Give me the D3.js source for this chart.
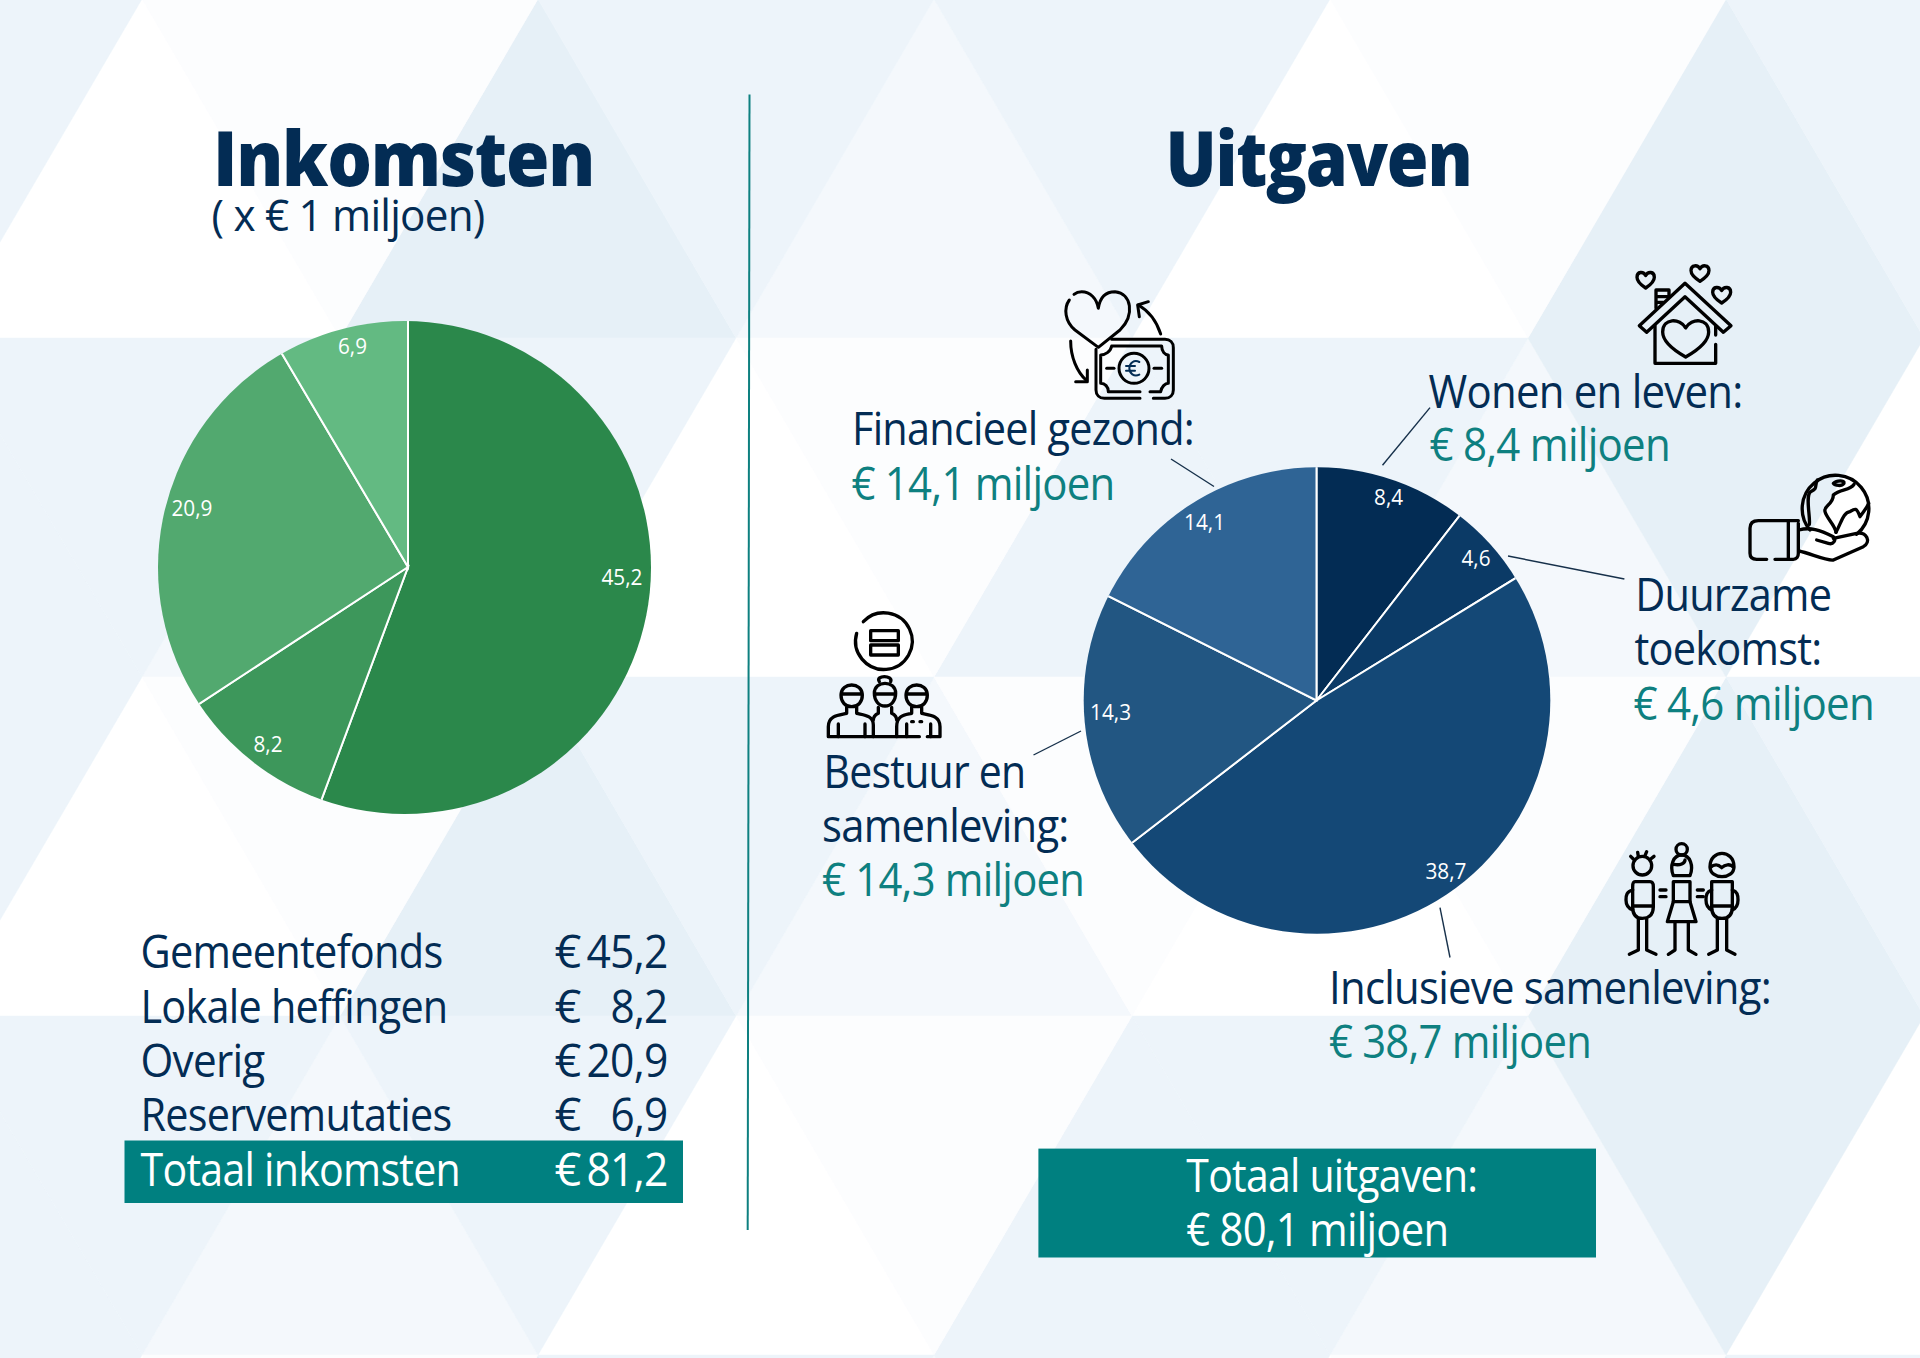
<!DOCTYPE html>
<html lang="nl">
<head>
<meta charset="utf-8">
<title>Inkomsten en Uitgaven</title>
<script src="https://cdn.jsdelivr.net/npm/d3@7"></script>
<style>
html,body{margin:0;padding:0;background:#fff;}
svg{display:block;}
text{font-family:"Open Sans",sans-serif;}
</style>
</head>
<body>
<svg id="chart" width="1920" height="1358" viewBox="0 0 1920 1358"></svg>
<script>
// ---- data ----
const incomeCategories = ["Gemeentefonds", "Lokale heffingen", "Overig", "Reservemutaties"];
const incomeValues = [45.2, 8.2, 20.9, 6.9];
const expenseCategories = ["Wonen en leven", "Duurzame toekomst", "Inclusieve samenleving", "Bestuur en samenleving", "Financieel gezond"];
const expenseValues = [8.4, 4.6, 38.7, 14.3, 14.1];

// ---- palette ----
const incomeColors = ["#2B884B", "#3D975B", "#52A96F", "#63BA82"];
const expenseColors = ["#032C54", "#0B3A66", "#144876", "#225682", "#2F6495"];
const NAVY = "#032C54", TEAL = "#008080", TEAL_TEXT = "#0E8080";
const W = "#FFFFFF", N = "#FCFDFE", V = "#F4F8FC", T = "#EDF4FA", S = "#E6F0F7";

const svg = d3.select("#chart");
const fmt = v => v.toFixed(1).replace(".", ",");

// ---- background triangle lattice ----
const triW = 396, triH = 339, triX0 = 142, triY0 = -1;
const evenUp = [W, S, V, W, S], evenDown = [T, N, T, T, N, T], evenDown2 = [T, N, T, N, N, T];
const oddUp = [T, V, W, T, V, W], oddDown = [T, T, N, T, S];
const bg = svg.append("g");
bg.append("rect").attr("width", 1920).attr("height", 1358).attr("fill", W);
function tri(x1, x2, yBase, xApex, yApex, fill) {
  const p = d3.path();
  p.moveTo(x1, yBase); p.lineTo(x2, yBase); p.lineTo(xApex, yApex); p.closePath();
  bg.append("path").attr("d", p.toString()).attr("fill", fill).attr("stroke", fill).attr("stroke-width", 0.5);
}
for (let r = 0; r < 5; r++) {
  const top = triY0 + r * triH, bot = top + triH;
  if (r % 2 === 0) {
    const downs = r === 2 ? evenDown2 : evenDown;
    evenUp.forEach((f, k) => { const a = triX0 + k * triW; tri(a - triW / 2, a + triW / 2, bot, a, top, f); });
    downs.forEach((f, k) => { const a = triX0 + (k - 1) * triW; tri(a, a + triW, top, a + triW / 2, bot, f); });
  } else {
    const x0 = triX0 - triW / 2;
    oddUp.forEach((f, k) => { const a = x0 + k * triW; tri(a - triW / 2, a + triW / 2, bot, a, top, f); });
    oddDown.forEach((f, k) => { const a = x0 + k * triW; tri(a, a + triW, top, a + triW / 2, bot, f); });
  }
}

// ---- text helper: baseline-left text fitted to the measured ink width ----
function txt(s, x, y, size, width, fill, weight) {
  const t = svg.append("text").attr("x", x - 1.5).attr("y", y).attr("font-size", size)
    .attr("fill", fill || NAVY).attr("font-weight", weight || 400)
    .attr("letter-spacing", -size * 0.018).text(s);
  if (width) t.attr("textLength", width + 3).attr("lengthAdjust", "spacingAndGlyphs");
  return t;
}

// ---- pies: wedges meet at the vertex, the rim is a circle that may sit slightly off it ----
let clipId = 0;
function drawPie(values, colors, vx, vy, cx, cy, radius) {
  const pie = d3.pie().sort(null).value(d => d)(values);
  const arc = d3.arc().innerRadius(0).outerRadius(radius + 20);
  const id = "rim" + (clipId++);
  svg.append("clipPath").attr("id", id).append("circle").attr("cx", cx).attr("cy", cy).attr("r", radius);
  svg.append("g").attr("clip-path", `url(#${id})`)
    .append("g").attr("transform", `translate(${vx},${vy})`)
    .selectAll("path").data(pie).join("path")
    .attr("d", arc).attr("fill", (d, i) => colors[i])
    .attr("stroke", "#fff").attr("stroke-width", 2);
}
drawPie(incomeValues, incomeColors, 408, 567, 404.5, 567.5, 246.5);
drawPie(expenseValues, expenseColors, 1316.5, 700.5, 1317, 700.5, 233.3);

// slice value labels
const incomeLabelPos = [[622, 585], [268, 751.5], [192, 516], [352.5, 354]];
const expenseLabelPos = [[1388.6, 505], [1476, 566], [1446, 878.6], [1110.6, 720], [1204.6, 530]];
function sliceLabels(values, pos) {
  values.forEach((v, i) => {
    const s = fmt(v), w = s.length === 3 ? 29 : 41;
    svg.append("text").attr("x", pos[i][0] - w / 2).attr("y", pos[i][1])
      .attr("font-size", 22).attr("fill", "#fff")
      .attr("textLength", w).attr("lengthAdjust", "spacingAndGlyphs").text(s);
  });
}
sliceLabels(incomeValues, incomeLabelPos);
sliceLabels(expenseValues, expenseLabelPos);

// ---- titles ----
txt("Inkomsten", 214.5, 185.5, 77, 378, NAVY, 800);
txt("( x € 1 miljoen)", 213, 231, 43, 270);
txt("Uitgaven", 1167, 185.5, 77, 303, NAVY, 800);

// divider
svg.append("line").attr("x1", 749.5).attr("y1", 94.5).attr("x2", 747.7).attr("y2", 1230)
  .attr("stroke", TEAL_TEXT).attr("stroke-width", 2);

// ---- income table ----
const tableY = [968, 1022.5, 1077, 1131];
const tableW = [299, 304, 121, 308];
const numW = [78, 54, 78, 54];
const FS = 46;
svg.append("rect").attr("x", 124.5).attr("y", 1140.5).attr("width", 558.5).attr("height", 62.5).attr("fill", TEAL);
function row(name, val, y, w, nw, fill) {
  txt(name, 142, y, FS, w, fill);
  txt("€", 556, y, FS, 23, fill);
  txt(val, 666 - nw, y, FS, nw, fill);
}
incomeCategories.forEach((c, i) => row(c, fmt(incomeValues[i]), tableY[i], tableW[i], numW[i], NAVY));
row("Totaal inkomsten", fmt(d3.sum(incomeValues)), 1185.5, 316.5, 78, "#fff");

// ---- expense callouts ----
const leaders = [
  [1430, 407.6, 1382.5, 465.3],
  [1508, 556, 1624.4, 579],
  [1440, 907.7, 1450, 957.5],
  [1081, 731, 1033.5, 755],
  [1171, 459, 1214, 486.5]
];
svg.append("g").selectAll("line").data(leaders).join("line")
  .attr("x1", d => d[0]).attr("y1", d => d[1]).attr("x2", d => d[2]).attr("y2", d => d[3])
  .attr("stroke", "#16304a").attr("stroke-width", 1.4);

const money = i => "€ " + fmt(expenseValues[i]) + " miljoen";
txt("Wonen en leven:", 1430, 407.5, FS, 311);
txt(money(0), 1431, 461, FS, 237.5, TEAL_TEXT);
txt("Duurzame", 1636.7, 611, FS, 193);
txt("toekomst:", 1636, 665.3, FS, 184);
txt(money(1), 1635, 719.5, FS, 237.5, TEAL_TEXT);
txt("Inclusieve samenleving:", 1330.5, 1003.5, FS, 439);
txt(money(2), 1330.5, 1057.5, FS, 259, TEAL_TEXT);
txt("Bestuur en", 825, 787.5, FS, 199);
txt("samenleving:", 823.6, 841.5, FS, 243.5);
txt(money(3), 823.6, 896, FS, 259, TEAL_TEXT);
txt("Financieel gezond:", 853.5, 445, FS, 339);
txt(money(4), 853, 500, FS, 260, TEAL_TEXT);

// total box
svg.append("rect").attr("x", 1038.4).attr("y", 1148.6).attr("width", 557.6).attr("height", 108.9).attr("fill", TEAL);
txt("Totaal uitgaven:", 1187.8, 1191.5, FS, 288, "#fff");
txt("€ " + fmt(d3.sum(expenseValues)) + " miljoen", 1187.8, 1245.8, FS, 259, "#fff");

// ---- line icons ----
function heart(cx, cy, w, h) {
  const a = w / 2, t = cy - h / 2, b = cy + h / 2, d = t + h * 0.22;
  return `M${cx},${d} C${cx - a * 0.25},${t - h * 0.05} ${cx - a},${t - h * 0.05} ${cx - a},${t + h * 0.33}` +
    ` C${cx - a},${t + h * 0.62} ${cx - a * 0.4},${b - h * 0.14} ${cx},${b}` +
    ` C${cx + a * 0.4},${b - h * 0.14} ${cx + a},${t + h * 0.62} ${cx + a},${t + h * 0.33}` +
    ` C${cx + a},${t - h * 0.05} ${cx + a * 0.25},${t - h * 0.05} ${cx},${d}Z`;
}
function icon(x, y, paths, sw) {
  const g = svg.append("g").attr("transform", `translate(${x},${y}) scale(${1 / 3})`)
    .attr("fill", "none").attr("stroke", "#000").attr("stroke-width", sw || 10)
    .attr("stroke-linecap", "round").attr("stroke-linejoin", "round");
  paths.forEach(d => g.append("path").attr("d", d));
  return g;
}
// heart and banknote
const finIcon = icon(1040, 260, [
  "M88,120 C70,145 75,185 105,210 L175,262 L240,210 C285,165 275,100 225,95 C200,95 180,110 175,145 C170,115 150,95 125,95 C115,95 108,98 102,103",
  "M362,222 C350,185 330,155 295,135", "M325,125 L293,135 L298,170",
  "M92,243 C92,290 110,335 140,362", "M142,330 L142,365 L107,365",
  "M300,415 H193 C178,415 168,405 168,390 V268 M215,238 H375 C390,238 400,248 400,263 V390 C400,405 390,415 375,415 H340",
  "M215,258 H365 C365,275 375,285 385,285 V370 C375,370 365,380 362,395 H330 M300,395 H205 C205,380 195,370 182,370 V285 C195,285 212,275 215,258",
  "M237,325 a45,45 0 1,0 90,0 a45,45 0 1,0 -90,0",
  "M200,325 H222", "M342,325 H365"
], 9);
finIcon.append("path").attr("d", "M298,306 C282,298 268,310 268,325 C268,340 282,352 298,344 M258,318 H285 M258,332 H285")
  .attr("stroke", NAVY).attr("stroke-width", 6);
// house with hearts
icon(1620, 255, [
  heart(77, 75, 52, 48), heart(240, 55, 54, 48), heart(305, 120, 54, 48),
  "M58,212 L195,85 L333,212 L310,232 L195,125 L80,232 Z",
  "M108,160 V105 H147 V125 M108,125 H145 M108,142 H130",
  "M105,212 V325 H287 V268 M287,240 V212",
  heart(197, 250, 138, 112)
]);
// globe on a hand
icon(1620, 255, [
  "M570,825 A100,100 0 1,1 710,838",
  "M592,675 C582,695 595,700 572,710 C555,722 572,790 568,808",
  "M648,832 C645,810 620,790 615,770 C610,750 640,750 640,720 C660,700 690,708 702,688",
  "M648,832 C665,800 670,772 690,770 C705,760 710,757 720,785 C730,770 740,760 746,745",
  "M640,685 C650,675 675,675 672,685 C665,695 645,692 640,685Z",
  "M535,797 H415 C398,797 390,805 390,820 V895 C390,908 398,913 410,913 H440 M465,913 H520 C530,913 535,905 535,895 V805",
  "M505,800 V910",
  "M537,825 C570,815 600,825 640,845 C650,855 640,870 625,865 L590,855",
  "M640,850 L710,835 C740,830 755,860 730,875 L640,915 C620,918 570,895 537,888"
]);
// three people and a ballot
icon(810, 600, [
  "M160,65 A85,85 0 1,1 140,100",
  "M182,92 H265 V122 H182Z", "M182,135 H265 V165 H182Z",
  "M93,285 C93,245 157,245 157,285 C157,305 145,320 125,320 C105,320 93,305 93,285Z M93,282 H157",
  "M193,280 C193,240 257,240 257,280 C257,300 245,318 225,318 C205,318 193,300 193,280Z M193,282 H257",
  "M208,245 C195,225 250,225 242,245",
  "M288,285 C288,245 352,245 352,285 C352,305 340,320 320,320 C300,320 288,305 288,285Z M288,282 H352",
  "M110,322 V340 C90,345 55,345 55,380 V410 H190 V375 C190,345 160,345 140,340 V322",
  "M205,322 V340 C195,345 190,350 190,360 M245,322 V340 C255,345 260,350 260,360 M190,410 H260",
  "M305,322 V340 C285,345 260,345 260,380 V410 H328 M352,410 H390 V380 C390,345 355,345 335,340 V322",
  "M85,410 V372 M165,410 V372 M290,410 V372 M362,410 V372",
  "M305,365 H310 M330,365 H335"
]);
// three figures
icon(1610, 835, [
  "M69,92 A28,28 0 1,0 125,92 A28,28 0 1,0 69,92Z",
  "M70,72 L62,64 M85,64 L83,52 M105,62 L110,50 M122,72 L132,64",
  "M75,140 H120 C128,140 130,148 130,155 V215 C130,245 110,250 97,250 C85,250 68,245 68,215 V155 C68,148 70,140 75,140Z",
  "M68,165 C50,170 48,180 48,195 C48,210 55,220 68,225 M68,213 H130",
  "M85,250 V345 L58,358 M110,250 V345 L138,358",
  "M150,165 H168 M150,185 H168",
  "M215,43 m-17,0 a17,17 0 1,0 34,0 a17,17 0 1,0 -34,0",
  "M190,122 C178,92 190,60 215,60 C240,60 252,92 240,122 H190Z M192,88 C210,92 225,85 225,75",
  "M190,140 H240 V200 H190Z",
  "M190,200 L172,260 H258 L240,200",
  "M195,260 V345 L175,358 M235,260 V345 L258,358",
  "M262,165 H280 M262,185 H280",
  "M300,95 C300,42 372,42 372,95 C372,135 300,135 300,95Z M300,98 C315,85 325,88 335,98 C345,88 360,85 372,98",
  "M305,140 H367 V215 C367,245 350,250 336,250 C322,250 305,245 305,215Z",
  "M305,165 C290,170 288,180 288,195 C288,210 295,220 305,225 M367,165 C382,170 384,180 384,195 C384,210 378,220 367,225 M305,213 H367",
  "M322,250 V345 L296,358 M350,250 V345 L375,358"
]);
</script>
</body>
</html>
